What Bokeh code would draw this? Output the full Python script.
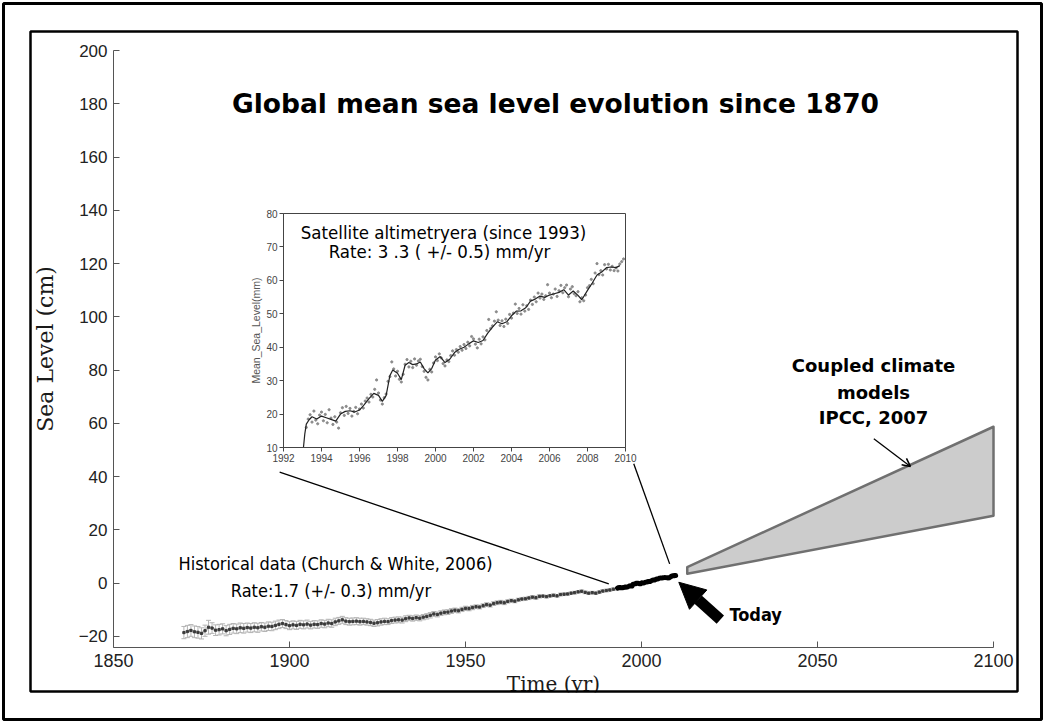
from math import pi
from bokeh.plotting import figure
from bokeh.models import (Range1d, LinearAxis, FixedTicker, Label, Arrow, NormalHead,
                          OpenHead, Whisker, TeeHead, ColumnDataSource)
from bokeh.embed import file_html
from bokeh.resources import INLINE

# ---------------- data ----------------
hist_years = list(range(1870, 1993))
hist_level = [
    -18.6, -18.2, -17.8, -18.3, -18.5, -18.9, -17.9, -16.6, -16.9, -17.7,
    -17.5, -17.2, -17.9, -17.4, -17.0, -17.2, -16.8, -17.0, -16.7, -16.9,
    -16.6, -16.8, -16.4, -16.6, -16.2, -16.3, -15.9, -15.5, -15.2, -15.6,
    -16.0, -15.7, -15.9, -15.5, -15.7, -15.4, -15.8, -15.5, -15.6, -15.2,
    -15.4, -15.0, -15.2, -14.6, -14.2, -13.8, -14.3, -14.5, -14.4, -14.3,
    -14.5, -14.4, -14.6, -14.8, -15.1, -14.9, -14.6, -14.4, -14.5, -14.1,
    -13.9, -13.8, -13.9, -13.4, -13.1, -13.3, -13.0, -13.2, -12.8, -12.5,
    -12.1, -11.6, -11.8, -11.3, -11.0, -10.9, -10.5, -10.2, -10.4, -9.9,
    -9.5, -9.6, -9.2, -8.9, -9.0, -8.5, -8.1, -8.3, -7.7, -7.4,
    -7.2, -7.4, -6.9, -6.6, -6.8, -6.3, -6.0, -5.9, -5.6, -5.3,
    -5.5, -5.0, -4.9, -5.1, -4.8, -4.6, -4.8, -4.3, -4.2, -4.1,
    -3.8, -3.6, -3.3, -3.1, -3.5, -3.8, -3.6, -3.8, -3.4, -3.0,
    -2.8, -2.6, -2.3,
]
hist_err = [
    2.3, 2.3, 2.2, 2.2, 2.2, 2.1, 2.1, 2.6, 2.0, 2.0,
    2.0, 1.9, 1.9, 1.9, 1.8, 1.8, 1.8, 1.8, 1.7, 1.7,
    1.7, 1.7, 1.6, 1.6, 1.6, 1.6, 1.6, 1.6, 1.5, 1.5,
    1.5, 1.5, 1.5, 1.5, 1.5, 1.5, 1.4, 1.4, 1.4, 1.4,
    1.4, 1.4, 1.4, 1.4, 1.3, 1.3, 1.3, 1.3, 1.3, 1.3,
    1.3, 1.2, 1.2, 1.2, 1.2, 1.2, 1.2, 1.2, 1.1, 1.1,
    1.1, 1.1, 1.1, 1.1, 1.0, 1.0, 1.0, 1.0, 1.0, 1.0,
    1.0, 0.9, 0.9, 0.9, 0.9, 0.9, 0.9, 0.8, 0.8, 0.8,
    0.8, 0.8, 0.8, 0.7, 0.7, 0.7, 0.7, 0.7, 0.7, 0.7,
    0.7, 0.7, 0.6, 0.6, 0.6, 0.6, 0.6, 0.6, 0.6, 0.6,
    0.6, 0.6, 0.5, 0.5, 0.5, 0.5, 0.5, 0.5, 0.5, 0.5,
    0.5, 0.5, 0.5, 0.5, 0.5, 0.5, 0.5, 0.5, 0.5, 0.5,
    0.5, 0.5, 0.5,
]

# satellite altimetry (mm), smoothed curve
sat_curve_t = [
    1993.05, 1993.12, 1993.2, 1993.35, 1993.5, 1993.75, 1994.0, 1994.25, 1994.5, 1994.75,
    1995.0, 1995.25, 1995.5, 1995.75, 1996.0, 1996.25, 1996.5, 1996.75, 1997.0, 1997.2,
    1997.4, 1997.6, 1997.75, 1998.0, 1998.2, 1998.4, 1998.6, 1998.8, 1999.0, 1999.2,
    1999.4, 1999.6, 1999.8, 2000.0, 2000.25, 2000.5, 2000.75, 2001.0, 2001.25, 2001.5,
    2001.75, 2002.0, 2002.25, 2002.5, 2002.75, 2003.0, 2003.25, 2003.5, 2003.75, 2004.0,
    2004.25, 2004.5, 2004.75, 2005.0, 2005.25, 2005.5, 2005.75, 2006.0, 2006.25, 2006.5,
    2006.75, 2007.0, 2007.25, 2007.5, 2007.7, 2008.0, 2008.25, 2008.5, 2008.75, 2009.0,
    2009.25, 2009.5, 2009.7,
]
sat_curve_mm = [
    10.0, 14.0, 17.0, 18.3, 19.2, 18.5, 19.4, 18.9, 18.4, 17.9,
    20.0, 20.8, 21.0, 20.6, 21.2, 22.8, 24.6, 26.2, 25.6, 23.8,
    25.5, 31.5, 33.2, 32.2, 30.3, 34.6, 35.4, 34.8, 35.0, 35.6,
    33.6, 32.3, 33.6, 36.2, 37.2, 35.4, 36.4, 38.4, 39.4, 40.0,
    41.0, 41.9, 41.4, 42.0, 44.2, 46.0, 47.6, 47.0, 47.6, 49.4,
    50.8, 50.9, 51.8, 53.8, 54.4, 55.3, 54.9, 55.6, 56.0, 56.4,
    57.2, 55.6, 56.8, 55.5, 54.2, 57.0, 59.2, 61.6, 62.5, 63.8,
    64.0, 63.8, 64.4,
]
# individual altimetry measurements (mm), every 0.1 yr from 1993.2
sat_pts_start = 1993.2
sat_pts_step = 0.1
sat_pts_mm = [
    16.0, 18.5, 19.8, 17.6, 20.9, 18.2, 17.1, 19.7,
    20.6, 18.0, 19.9, 17.4, 21.3, 18.8, 16.9, 19.2, 17.6, 15.8,
    20.4, 21.9, 19.6, 22.3, 20.2, 21.7, 19.4, 20.8, 22.0, 20.1,
    21.5, 23.0, 21.8, 23.9, 24.8, 23.6, 25.9, 25.1, 27.4, 30.2,
    26.3, 24.2, 23.0, 24.9, 26.0, 29.8, 31.2, 35.6, 33.5, 31.4,
    32.8, 30.4, 29.6, 31.9, 34.9, 36.3, 34.1, 35.8, 33.9, 36.5,
    34.6, 35.9, 36.4, 34.2, 32.8, 31.0, 30.2, 33.4, 32.6, 35.3,
    37.1, 36.0, 38.0, 36.8, 35.1, 34.4, 36.2, 35.7, 37.5, 38.9,
    37.6, 39.3, 38.5, 40.2, 39.1, 40.8, 39.6, 41.5, 40.4, 43.2,
    42.5, 40.9, 39.8, 42.4, 41.0, 43.1, 42.2, 45.0, 48.3, 45.6,
    46.4, 47.8, 50.6, 48.1, 46.5, 47.9, 46.2, 48.4, 47.1, 49.8,
    48.7, 50.2, 52.9, 50.1, 51.6, 49.9, 52.7, 50.8, 52.4, 51.3,
    54.1, 52.8, 55.0, 53.6, 56.2, 54.7, 55.9, 54.3, 55.4, 58.7,
    56.2, 54.8, 55.9, 57.4, 55.2, 56.9, 58.5, 56.3, 57.8, 58.6,
    55.1, 57.4, 58.1, 56.0, 55.4, 56.6, 53.6, 54.8, 53.9, 55.6,
    57.8, 58.4, 60.3, 59.0, 62.2, 65.0, 61.7, 62.9, 61.6, 64.7,
    63.4, 64.8, 63.1, 64.2, 62.9, 63.7, 62.8, 64.9, 65.6, 66.4,
]
sat_pts_t = [round(sat_pts_start + sat_pts_step * i, 2) for i in range(len(sat_pts_mm))]

# offset (cm) of the altimetry record on the main chart
sat_offset_cm = -3.6

# IPCC 2007 projection envelope
proj_years = [2013, 2100]
proj_upper = [6.0, 58.7]
proj_lower = [3.5, 25.3]

main_xticks = [1850, 1900, 1950, 2000, 2050, 2100]
main_yticks = [-20, 0, 20, 40, 60, 80, 100, 120, 140, 160, 180, 200]
main_xlim = (1850, 2100)
main_ylim = (-24.2, 200)
inset_xticks = [1992, 1994, 1996, 1998, 2000, 2002, 2004, 2006, 2008, 2010]
inset_yticks = [10, 20, 30, 40, 50, 60, 70, 80]
inset_xlim = (1992, 2010)
inset_ylim = (10, 80)

# ---------------- layout (pixels on the 1044x722 page) ----------------
W, H = 1044, 722
MAIN_L, MAIN_R, MAIN_T, MAIN_B = 113, 993, 50, 647
INS_L, INS_R, INS_T, INS_B = 283, 625, 213, 447


def xspan(v0, p0, v1, p1):
    k = (v1 - v0) / (p1 - p0)
    return Range1d(v0 - p0 * k, v0 + (W - p0) * k)


def yspan(v_bottom, p_bottom, v_top, p_top):
    k = (v_top - v_bottom) / (p_bottom - p_top)
    return Range1d(v_bottom - (H - p_bottom) * k, v_top + p_top * k)


NARROW = "DejaVu Sans Condensed"
SANS = "Liberation Sans"
BOLD_SANS = "DejaVu Sans"
SERIF = "DejaVu Serif"

p = figure(width=W, height=H, output_backend="svg", toolbar_location=None,
           x_range=xspan(main_xlim[0], MAIN_L, main_xlim[1], MAIN_R),
           y_range=yspan(main_ylim[0], MAIN_B, main_ylim[1], MAIN_T),
           x_axis_location=None, y_axis_location=None, min_border=0,
           background_fill_color="white", border_fill_color="white")
p.outline_line_color = None
for g in p.grid:
    g.visible = False

p.extra_x_ranges = {"ix": xspan(inset_xlim[0], INS_L, inset_xlim[1], INS_R),
                    "px": Range1d(0, W)}
p.extra_y_ranges = {"iy": yspan(inset_ylim[0], INS_B, inset_ylim[1], INS_T),
                    "py": Range1d(H, 0)}

# ---- main axes ----
xa = LinearAxis(fixed_location=main_ylim[0], bounds=main_xlim,
                ticker=FixedTicker(ticks=main_xticks), axis_label="Time (yr)")
ya = LinearAxis(fixed_location=main_xlim[0], bounds=main_ylim,
                ticker=FixedTicker(ticks=main_yticks), axis_label="Sea Level (cm)")
for ax in (xa, ya):
    ax.major_tick_in = 6
    ax.major_tick_out = 0
    ax.minor_tick_in = 0
    ax.minor_tick_out = 0
    ax.axis_line_color = "#555555"
    ax.major_tick_line_color = "#555555"
    ax.major_label_text_color = "#222222"
    ax.major_label_text_font = SANS
    ax.major_label_standoff = 6
    ax.axis_label_text_font = SERIF
    ax.axis_label_text_font_style = "normal"
    ax.axis_label_text_color = "#1a1a1a"
xa.major_label_text_font_size = "18px"
xa.axis_label_text_font_size = "20px"
xa.axis_label_standoff = 2
ya.major_label_text_font_size = "17px"
ya.major_label_overrides = {-20: "\u221220"}
ya.axis_label_text_font_size = "22px"
ya.axis_label_standoff = 18
p.add_layout(xa, "below")
p.add_layout(ya, "left")

# ---- historical record ----
src = ColumnDataSource(dict(
    x=hist_years, y=hist_level,
    lo=[v - e for v, e in zip(hist_level, hist_err)],
    hi=[v + e for v, e in zip(hist_level, hist_err)],
))
p.add_layout(Whisker(source=src, base="x", lower="lo", upper="hi",
                     line_color="#b4b4b4", line_width=1,
                     upper_head=TeeHead(size=5, line_color="#b4b4b4", line_width=1),
                     lower_head=TeeHead(size=5, line_color="#b4b4b4", line_width=1)))
p.line("x", "y", source=src, line_color="#c8c8c8", line_width=3)
p.scatter("x", "y", source=src, marker="square", size=2.2, color="#3a3a3a")

# altimetry on main chart
p.line(sat_curve_t[2:], [v / 10 + sat_offset_cm for v in sat_curve_mm[2:]],
       line_color="black", line_width=5, line_cap="round")

# projection envelope
p.patch([proj_years[0], proj_years[1], proj_years[1], proj_years[0]],
        [proj_upper[0], proj_upper[1], proj_lower[1], proj_lower[0]],
        fill_color="#cccccc", line_color="#707070", line_width=2.5, line_join="round")

# connector lines from inset to main record
conn1 = ([1897.2, 1990.7], [41.7, -0.3])
conn2 = ([1997.8, 2008.0], [44.8, 7.2])
p.line(conn1[0], conn1[1], line_color="black", line_width=1.3)
p.line(conn2[0], conn2[1], line_color="black", line_width=1.3)

# ---- inset ----
p.quad(left=[inset_xlim[0]], right=[inset_xlim[1]], bottom=[inset_ylim[0]],
       top=[inset_ylim[1]], x_range_name="ix", y_range_name="iy",
       fill_color="white", line_color="#444444", line_width=1)
p.scatter(sat_pts_t, sat_pts_mm, size=2.2, color="#8a8a8a",
          x_range_name="ix", y_range_name="iy")
p.line(sat_curve_t, sat_curve_mm, line_color="#222222", line_width=1.2,
       x_range_name="ix", y_range_name="iy")

ixa = LinearAxis(x_range_name="ix", y_range_name="iy", fixed_location=inset_ylim[0],
                 bounds=inset_xlim, ticker=FixedTicker(ticks=inset_xticks))
iya = LinearAxis(x_range_name="ix", y_range_name="iy", fixed_location=inset_xlim[0],
                 bounds=inset_ylim, ticker=FixedTicker(ticks=inset_yticks))
for ax in (ixa, iya):
    ax.major_tick_in = 0
    ax.major_tick_out = 4
    ax.minor_tick_in = 0
    ax.minor_tick_out = 0
    ax.axis_line_color = "#444444"
    ax.major_tick_line_color = "#444444"
    ax.major_label_text_color = "#444444"
    ax.major_label_text_font = SANS
    ax.major_label_text_font_size = "10px"
    ax.major_label_standoff = 2
p.add_layout(ixa, "below")
p.add_layout(iya, "left")

p.add_layout(Label(text="Mean_Sea_Level(mm)", x=255, y=330, x_range_name="px",
                   y_range_name="py", angle=pi / 2, text_align="center",
                   text_baseline="middle", text_font=SANS, text_font_size="10.5px",
                   text_color="#555555"))
p.add_layout(Label(text="Satellite altimetryera (since 1993)", x=443, y=232,
                   x_range_name="px", y_range_name="py", text_align="center",
                   text_baseline="middle", text_font=NARROW, text_font_size="18.5px",
                   text_color="black"))
p.add_layout(Label(text="Rate: 3 .3 ( +/- 0.5) mm/yr", x=439, y=251,
                   x_range_name="px", y_range_name="py", text_align="center",
                   text_baseline="middle", text_font=NARROW, text_font_size="18.5px",
                   text_color="black"))

# ---- texts on main chart ----
p.add_layout(Label(text="Global mean sea level evolution since 1870", x=555, y=103,
                   x_range_name="px", y_range_name="py",
                   text_align="center", text_baseline="middle", text_font=BOLD_SANS,
                   text_font_style="bold", text_font_size="26.5px", text_color="black"))
p.add_layout(Label(text="Historical data (Church & White, 2006)", x=335, y=563,
                   x_range_name="px", y_range_name="py",
                   text_align="center", text_baseline="middle", text_font=NARROW,
                   text_font_size="18px", text_color="black"))
p.add_layout(Label(text="Rate:1.7  (+/- 0.3) mm/yr", x=333, y=590,
                   x_range_name="px", y_range_name="py",
                   text_align="center", text_baseline="middle", text_font=NARROW,
                   text_font_size="18px", text_color="black"))
for txt, yy in (("Coupled climate", 365), ("models", 392), ("IPCC, 2007", 417)):
    p.add_layout(Label(text=txt, x=873, y=yy, x_range_name="px", y_range_name="py",
                       text_align="center", text_baseline="middle", text_font=BOLD_SANS,
                       text_font_style="bold", text_font_size="18px", text_color="black"))
p.add_layout(Label(text="Today", x=729, y=614, x_range_name="px", y_range_name="py",
                   text_align="left", text_baseline="middle", text_font=NARROW,
                   text_font_style="bold", text_font_size="18px", text_color="black"))

# arrows
p.add_layout(Arrow(x_start=2022.4, y_start=-13.7, x_end=2010.6, y_end=0.3,
                   line_width=11, line_color="black",
                   end=NormalHead(size=26, fill_color="black", line_color="black")))
p.add_layout(Arrow(x_start=2066.0, y_start=54.2, x_end=2076.4, y_end=43.8,
                   line_width=1.3, line_color="black",
                   end=OpenHead(size=8, line_color="black", line_width=1.5)))

# ---- page frames (pixel coordinates) ----
mask = p.quad(left=[4], right=[1040], top=[692], bottom=[718], x_range_name="px",
              y_range_name="py", fill_color="white", line_color=None)
mask.level = "overlay"
outer = p.quad(left=[3], right=[1041], top=[3], bottom=[719], x_range_name="px",
               y_range_name="py", fill_color=None, line_color="black", line_width=3)
outer.level = "overlay"
inner = p.quad(left=[30], right=[1017], top=[31], bottom=[691], x_range_name="px",
               y_range_name="py", fill_color=None, line_color="black", line_width=2.5)
inner.level = "overlay"

open("out.html", "w").write(file_html(p, INLINE))
